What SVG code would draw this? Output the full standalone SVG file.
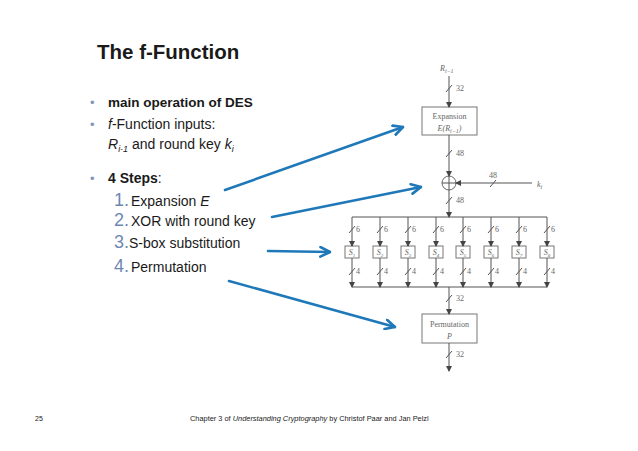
<svg xmlns="http://www.w3.org/2000/svg" width="638" height="451" viewBox="0 0 638 451">
<defs>
<style>
.t{font-family:"Liberation Sans",Arial,sans-serif;fill:#1a1a1a}
.b{font-weight:bold}
.n{font-family:"Liberation Sans",Arial,sans-serif;fill:#6f87b3;font-size:18px}
.bul{font-family:"Liberation Sans",Arial,sans-serif;fill:#7f95bd;font-size:13px}
.d{stroke:#555;stroke-width:1;fill:none}
.box{stroke:#777;stroke-width:1;fill:#fff}
.s{font-family:"Liberation Serif","Times New Roman",serif;fill:#666;font-size:8px}
.bl{stroke:#1f78b8;stroke-width:2.6;fill:none;stroke-linecap:round;stroke-linejoin:round}
</style>
<marker id="ah" viewBox="0 0 6 6" refX="5" refY="3" markerWidth="6" markerHeight="6" markerUnits="userSpaceOnUse" orient="auto">
<path d="M0,0 L6,3 L0,6 Z" fill="#444"/>
</marker>
<marker id="bh" viewBox="0 0 10 10" refX="9" refY="5" markerWidth="12" markerHeight="12" markerUnits="userSpaceOnUse" orient="auto">
<path d="M1,1 L9,5 L1,9" fill="none" stroke="#1f78b8" stroke-width="2.2" stroke-linecap="round" stroke-linejoin="round"/>
</marker>
</defs>
<rect width="638" height="451" fill="#fff"/>

<g id="text">
<text class="t b" x="97" y="59" font-size="20.5">The f-Function</text>
<text class="bul" x="90" y="107">•</text>
<text class="t b" x="108" y="107" font-size="13.5">main operation of DES</text>
<text class="bul" x="90" y="129">•</text>
<text class="t" x="108" y="129" font-size="14"><tspan font-style="italic">f</tspan>-Function inputs:</text>
<text class="t" x="108" y="149" font-size="14"><tspan font-style="italic">R</tspan><tspan font-style="italic" font-size="9" dy="3">i-1</tspan><tspan dy="-3"> and round key </tspan><tspan font-style="italic">k</tspan><tspan font-style="italic" font-size="9" dy="3">i</tspan></text>
<text class="bul" x="90" y="183">•</text>
<text class="t b" x="108" y="183" font-size="14">4 Steps<tspan font-weight="normal">:</tspan></text>
<text class="n" x="114" y="206">1.</text>
<text class="t" x="131" y="206" font-size="14">Expansion <tspan font-style="italic">E</tspan></text>
<text class="n" x="114" y="226">2.</text>
<text class="t" x="131" y="226" font-size="14">XOR with round key</text>
<text class="n" x="114" y="248">3.</text>
<text class="t" x="129" y="248" font-size="14">S-box substitution</text>
<text class="n" x="114" y="272">4.</text>
<text class="t" x="131" y="272" font-size="14">Permutation</text>
<text class="t" x="35" y="421" font-size="7" fill="#444">25</text>
<text class="t" x="190" y="421" font-size="7.4" fill="#333">Chapter 3 of <tspan font-style="italic">Understanding Cryptography</tspan> by Christof Paar and Jan Pelzl</text>
</g>

<g id="input">
<text class="s" x="440" y="71" font-style="italic" font-size="9">R<tspan font-size="6" dy="2">i−1</tspan></text>
</g>
<g id="expansion">
<rect class="box" x="422" y="107" width="55" height="28"/>
<text class="s" x="449.5" y="119" text-anchor="middle" font-size="8.5">Expansion</text>
<text class="s" x="449.5" y="131" text-anchor="middle" font-size="8.5" font-style="italic">E(R<tspan font-size="6" dy="2">i−1</tspan><tspan dy="-2">)</tspan></text>
</g>
<g id="xor">
<circle cx="449" cy="183" r="7" fill="#fff" stroke="#666" stroke-width="1"/>
<path class="d" d="M442,183 H456 M449,176 V190" stroke="#666"/>
</g>
<g id="key">
<text class="s" x="537" y="187" font-style="italic" font-size="9">k<tspan font-size="6" dy="2">i</tspan></text>
</g>
<g id="sboxes">
<g id="s1"><rect class="box" x="345" y="246" width="14" height="12"/><text class="s" x="352" y="255" text-anchor="middle" font-style="italic">S<tspan font-size="5" dy="1.5">1</tspan></text></g>
<g id="s2"><rect class="box" x="373" y="246" width="14" height="12"/><text class="s" x="380" y="255" text-anchor="middle" font-style="italic">S<tspan font-size="5" dy="1.5">2</tspan></text></g>
<g id="s3"><rect class="box" x="401" y="246" width="14" height="12"/><text class="s" x="408" y="255" text-anchor="middle" font-style="italic">S<tspan font-size="5" dy="1.5">3</tspan></text></g>
<g id="s4"><rect class="box" x="429" y="246" width="14" height="12"/><text class="s" x="436" y="255" text-anchor="middle" font-style="italic">S<tspan font-size="5" dy="1.5">4</tspan></text></g>
<g id="s5"><rect class="box" x="456" y="246" width="14" height="12"/><text class="s" x="463" y="255" text-anchor="middle" font-style="italic">S<tspan font-size="5" dy="1.5">5</tspan></text></g>
<g id="s6"><rect class="box" x="484" y="246" width="14" height="12"/><text class="s" x="491" y="255" text-anchor="middle" font-style="italic">S<tspan font-size="5" dy="1.5">6</tspan></text></g>
<g id="s7"><rect class="box" x="512" y="246" width="14" height="12"/><text class="s" x="519" y="255" text-anchor="middle" font-style="italic">S<tspan font-size="5" dy="1.5">7</tspan></text></g>
<g id="s8"><rect class="box" x="540" y="246" width="14" height="12"/><text class="s" x="547" y="255" text-anchor="middle" font-style="italic">S<tspan font-size="5" dy="1.5">8</tspan></text></g>
</g>
<g id="permutation">
<rect class="box" x="422" y="314" width="55" height="29"/>
<text class="s" x="449.5" y="327" text-anchor="middle" font-size="8.5">Permutation</text>
<text class="s" x="449.5" y="339" text-anchor="middle" font-size="8.5" font-style="italic">P</text>
</g>

<g id="connectors">
<path class="d" d="M449,76 V107" marker-end="url(#ah)"/>
<path class="d" d="M449,135 V176" marker-end="url(#ah)"/>
<path class="d" d="M532,183 H456" marker-end="url(#ah)"/>
<path class="d" d="M449,190 V217" marker-end="url(#ah)"/>
<path class="d" d="M352,217 H547"/>
<path class="d" d="M352,287 H547"/>
<g marker-end="url(#ah)" class="d">
<path d="M352,217 V246"/><path d="M380,217 V246"/><path d="M408,217 V246"/><path d="M436,217 V246"/>
<path d="M463,217 V246"/><path d="M491,217 V246"/><path d="M519,217 V246"/><path d="M547,217 V246"/>
<path d="M352,258 V287"/><path d="M380,258 V287"/><path d="M408,258 V287"/><path d="M436,258 V287"/>
<path d="M463,258 V287"/><path d="M491,258 V287"/><path d="M519,258 V287"/><path d="M547,258 V287"/>
</g>
<path class="d" d="M449,287 V314" marker-end="url(#ah)"/>
<path class="d" d="M449,343 V371" marker-end="url(#ah)"/>
<g class="d" stroke="#555">
<path d="M446,92 L452,85"/><path d="M446,157 L452,150"/><path d="M490,187 L496,180"/><path d="M446,204 L452,197"/>
<path d="M446,302 L452,295"/><path d="M446,358 L452,351"/>
<path d="M349,233 L355,226"/><path d="M377,233 L383,226"/><path d="M405,233 L411,226"/><path d="M433,233 L439,226"/>
<path d="M460,233 L466,226"/><path d="M488,233 L494,226"/><path d="M516,233 L522,226"/><path d="M544,233 L550,226"/>
<path d="M349,275 L355,268"/><path d="M377,275 L383,268"/><path d="M405,275 L411,268"/><path d="M433,275 L439,268"/>
<path d="M460,275 L466,268"/><path d="M488,275 L494,268"/><path d="M516,275 L522,268"/><path d="M544,275 L550,268"/>
</g>
<g class="s">
<text x="456" y="91">32</text><text x="456" y="156">48</text><text x="489" y="178">48</text><text x="456" y="203">48</text>
<text x="456" y="301">32</text><text x="456" y="357">32</text>
<text x="356" y="232">6</text><text x="384" y="232">6</text><text x="412" y="232">6</text><text x="440" y="232">6</text>
<text x="467" y="232">6</text><text x="495" y="232">6</text><text x="523" y="232">6</text><text x="551" y="232">6</text>
<text x="356" y="274">4</text><text x="384" y="274">4</text><text x="412" y="274">4</text><text x="440" y="274">4</text>
<text x="467" y="274">4</text><text x="495" y="274">4</text><text x="523" y="274">4</text><text x="551" y="274">4</text>
</g>
<path class="bl" d="M225,190 L403,127" marker-end="url(#bh)"/>
<path class="bl" d="M272,217 L421,187" marker-end="url(#bh)"/>
<path class="bl" d="M268,251 L330,252" marker-end="url(#bh)"/>
<path class="bl" d="M229,281 L395,327" marker-end="url(#bh)"/>
</g>
</svg>
